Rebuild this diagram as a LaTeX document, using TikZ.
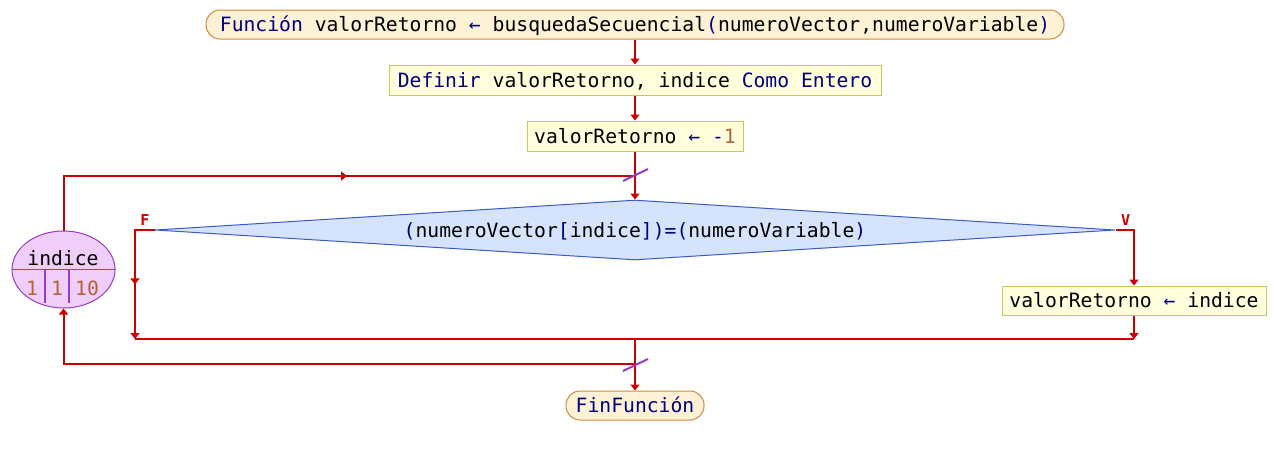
\documentclass[tikz,border=0pt]{standalone}
\usepackage{fontspec}
\usepackage{xcolor}
\usepackage{tikz}
\usetikzlibrary{calc,arrows.meta,shapes.geometric,decorations.markings}
\newfontfamily\psfont{DejaVu Sans Mono}
\definecolor{flujo}{RGB}{204,0,0}
\definecolor{clave}{RGB}{0,0,128}
\definecolor{cifra}{RGB}{180,100,50}
\definecolor{termfondo}{RGB}{253,241,214}
\definecolor{termborde}{RGB}{205,140,60}
\definecolor{procfondo}{RGB}{255,255,221}
\definecolor{procborde}{RGB}{200,200,90}
\definecolor{decfondo}{RGB}{213,227,252}
\definecolor{decborde}{RGB}{60,90,200}
\definecolor{bucfondo}{RGB}{240,206,250}
\definecolor{bucborde}{RGB}{150,60,200}
\newcommand{\pkw}[1]{\textcolor{clave}{#1}}
\newcommand{\pnum}[1]{\textcolor{cifra}{#1}}

\begin{document}
\begin{tikzpicture}[x=0.5pt, y=-0.5pt, >={Triangle[length=3pt,width=4.5pt]}, base/.style = {font=\psfont\fontsize{9.85}{12}\selectfont, text height=7.2pt, text depth=0pt, inner sep=0pt}, terminal/.style = {base, draw=termborde, fill=termfondo, line width=0.5pt, rounded corners=7pt, minimum height=14.5pt}, proceso/.style = {base, draw=procborde, fill=procfondo, line width=0.5pt, minimum height=15pt}, decision/.style = {base, diamond, aspect=16, draw=decborde, fill=decfondo, line width=0.5pt, minimum width=480pt, minimum height=30pt}, bucle/.style = {ellipse, draw=bucborde, fill=bucfondo, line width=0.5pt, minimum width=51.5pt, minimum height=38.5pt, inner sep=0pt}, flecha/.style = {->, color=flujo, line width=1pt}, linea/.style = {color=flujo, line width=1pt}, corte/.style = {color=bucborde, line width=1pt}, rama/.style = {font=\psfont\bfseries\fontsize{7.5}{9}\selectfont, text=flujo, inner sep=0pt}, marca/.style = {decoration={markings, mark=at position #1 with {\arrow{>}}}, postaction={decorate}}]

\useasboundingbox (0,0) rectangle (1277,455);

\node[terminal, minimum width=429pt] (inicio) at (635,24.5) {\pkw{Función} valorRetorno \pkw{←} busquedaSecuencial\pkw{(}numeroVector,numeroVariable\pkw{)}};
\node[proceso, minimum width=246pt] (definir) at (635,80) {\pkw{Definir} valorRetorno, indice \pkw{Como Entero}};
\node[proceso, minimum width=108pt] (asignar) at (635,136) {valorRetorno \pkw{←} \pkw{-}\pnum{1}};
\node[decision] (cond) at (635,230) {\pkw{(}numeroVector\pkw{[}indice\pkw{])=(}numeroVariable\pkw{)}};
\node[proceso, minimum width=132pt, minimum height=14.5pt] (valor) at (1134,300.5) {valorRetorno \pkw{←} indice};
\node[terminal, minimum width=69pt] (fin) at (635,405.5) {\pkw{FinFunción}};
\node[bucle] (bucle) at (63.5,269.5) {};

\draw[bucborde, line width=0.6pt] (bucle.west) -- (bucle.east);
\draw[bucborde, line width=0.6pt] (45,270) -- (45,303) (69,270) -- (69,303);
\node[base] (bvar) at (63,258) {indice};
\node[base, text=cifra] (bini) at (32,288) {1};
\node[base, text=cifra] (bpaso) at (57,288) {1};
\node[base, text=cifra] (bfin) at (87,288) {10};

\node[rama] (etqF) at (145,220.5) {F};
\node[rama] (etqV) at (1125.5,220) {V};

\coordinate (union1) at (635,176);
\coordinate (izq) at (135,339);
\coordinate (der) at (1134,339);
\coordinate (union2) at (635,339);
\coordinate (union3) at (635,364);

\draw[flecha] (inicio) -- (definir);
\draw[flecha] (definir) -- (asignar);
\draw[flecha] (asignar) -- (cond.north);
\draw[linea, marca=0.54] (bucle.north) |- (union1);
\draw[flecha, marca=0.575] (cond.west) -| (izq);
\draw[flecha] (cond.east) -| (valor.north);
\draw[flecha] (valor) -- (der);
\draw[linea] (izq) -- (der);
\draw[flecha] (union2) -- (fin);
\draw[flecha] (union3) -| (bucle.south);

\draw[corte] (623,181) -- (648,169);
\draw[corte] (623,371) -- (648,359);
\end{tikzpicture}
\end{document}
